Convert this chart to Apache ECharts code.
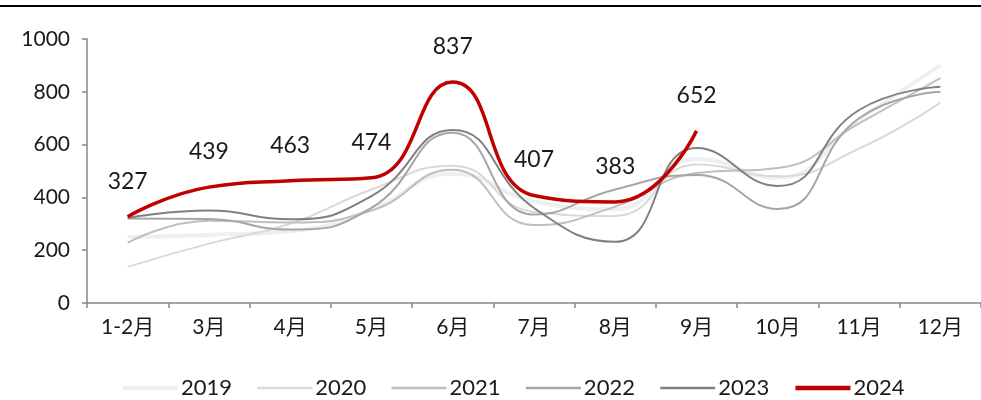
<!DOCTYPE html>
<html>
<head>
<meta charset="utf-8">
<script src="https://cdn.jsdelivr.net/npm/echarts@6/dist/echarts.min.js"></script>
<style>html,body{margin:0;padding:0;background:#fff}#c{width:981px;height:400px}</style>
</head>
<body>
<div id="c"></div>
<script>
const categories = ['1-2月','3月','4月','5月','6月','7月','8月','9月','10月','11月','12月'];
const yTicks = [0, 200, 400, 600, 800, 1000];
const s2019 = [250, 258, 272, 355, 490, 385, 355, 545, 475, 695, 900];
const s2020 = [137, 225, 300, 430, 520, 345, 330, 525, 480, 585, 759];
const s2021 = [228, 312, 305, 350, 505, 295, 365, 492, 511, 680, 852];
const s2022 = [320, 318, 278, 360, 645, 335, 430, 485, 356, 700, 800];
const s2023 = [322, 350, 317, 405, 655, 360, 232, 587, 443, 731, 819];
const s2024 = [327, 439, 463, 474, 837, 407, 383, 652];
const seriesNames = ['2019','2020','2021','2022','2023','2024'];

const FONT = "Lato, 'Noto Sans CJK SC', sans-serif";
const colors = ['#efefef','#d9d9d9','#bfbfbf','#a6a6a6','#808080','#c00000'];
const widths = [4, 2, 2, 2, 2, 3.5];
const legendWidths = [4, 2.5, 2.5, 2.5, 2.5, 4.5];
const data = [s2019, s2020, s2021, s2022, s2023, s2024];

const chart = echarts.init(document.getElementById('c'), null, {renderer:'canvas'});
chart.setOption({
  animation: false,
  textStyle: {fontFamily: FONT},
  graphic: [{
    type: 'rect', left: 0, top: 5, shape: {width: 981, height: 2},
    style: {fill: '#000'}, silent: true
  }],
  grid: {left: 87, top: 39, height: 264, width: 909, containLabel: false},
  xAxis: {
    type: 'category', data: categories, boundaryGap: true,
    axisLine: {lineStyle: {color: '#868686', width: 1.5}},
    axisTick: {show: true, length: 5, lineStyle: {color: '#868686', width: 1.5}},
    axisLabel: {color: '#1a1a1a', fontSize: 21, margin: 14, fontFamily: FONT}
  },
  yAxis: {
    type: 'value', min: yTicks[0], max: yTicks[yTicks.length-1], interval: 200,
    axisLine: {show: true, lineStyle: {color: '#868686', width: 1.5}},
    axisTick: {show: true, length: 5, lineStyle: {color: '#868686', width: 1.5}},
    splitLine: {show: false},
    axisLabel: {color: '#1a1a1a', fontSize: 21, margin: 17, fontFamily: FONT, formatter: v => String(v)}
  },
  legend: {
    left: 116, top: 372, itemWidth: 55, itemHeight: 14, itemGap: 24,
    itemStyle: {opacity: 0},
    textStyle: {color: '#1a1a1a', fontSize: 22, fontFamily: FONT, padding: [0,0,0,-2]},
    data: seriesNames.map((n, i) => ({name: n, lineStyle: {width: legendWidths[i], color: colors[i]}}))
  },
  series: seriesNames.map((n, i) => ({
    name: n, type: 'line', data: data[i], smooth: 0.5,
    symbol: 'circle', symbolSize: 0, showSymbol: true,
    z: i + 2,
    lineStyle: {color: colors[i], width: widths[i]},
    itemStyle: {color: colors[i]},
    label: i === 5 ? {show: true, position: 'top', distance: 24, color: '#1a1a1a', fontSize: 23, fontFamily: FONT} : {show: false}
  }))
});
</script>
</body>
</html>
